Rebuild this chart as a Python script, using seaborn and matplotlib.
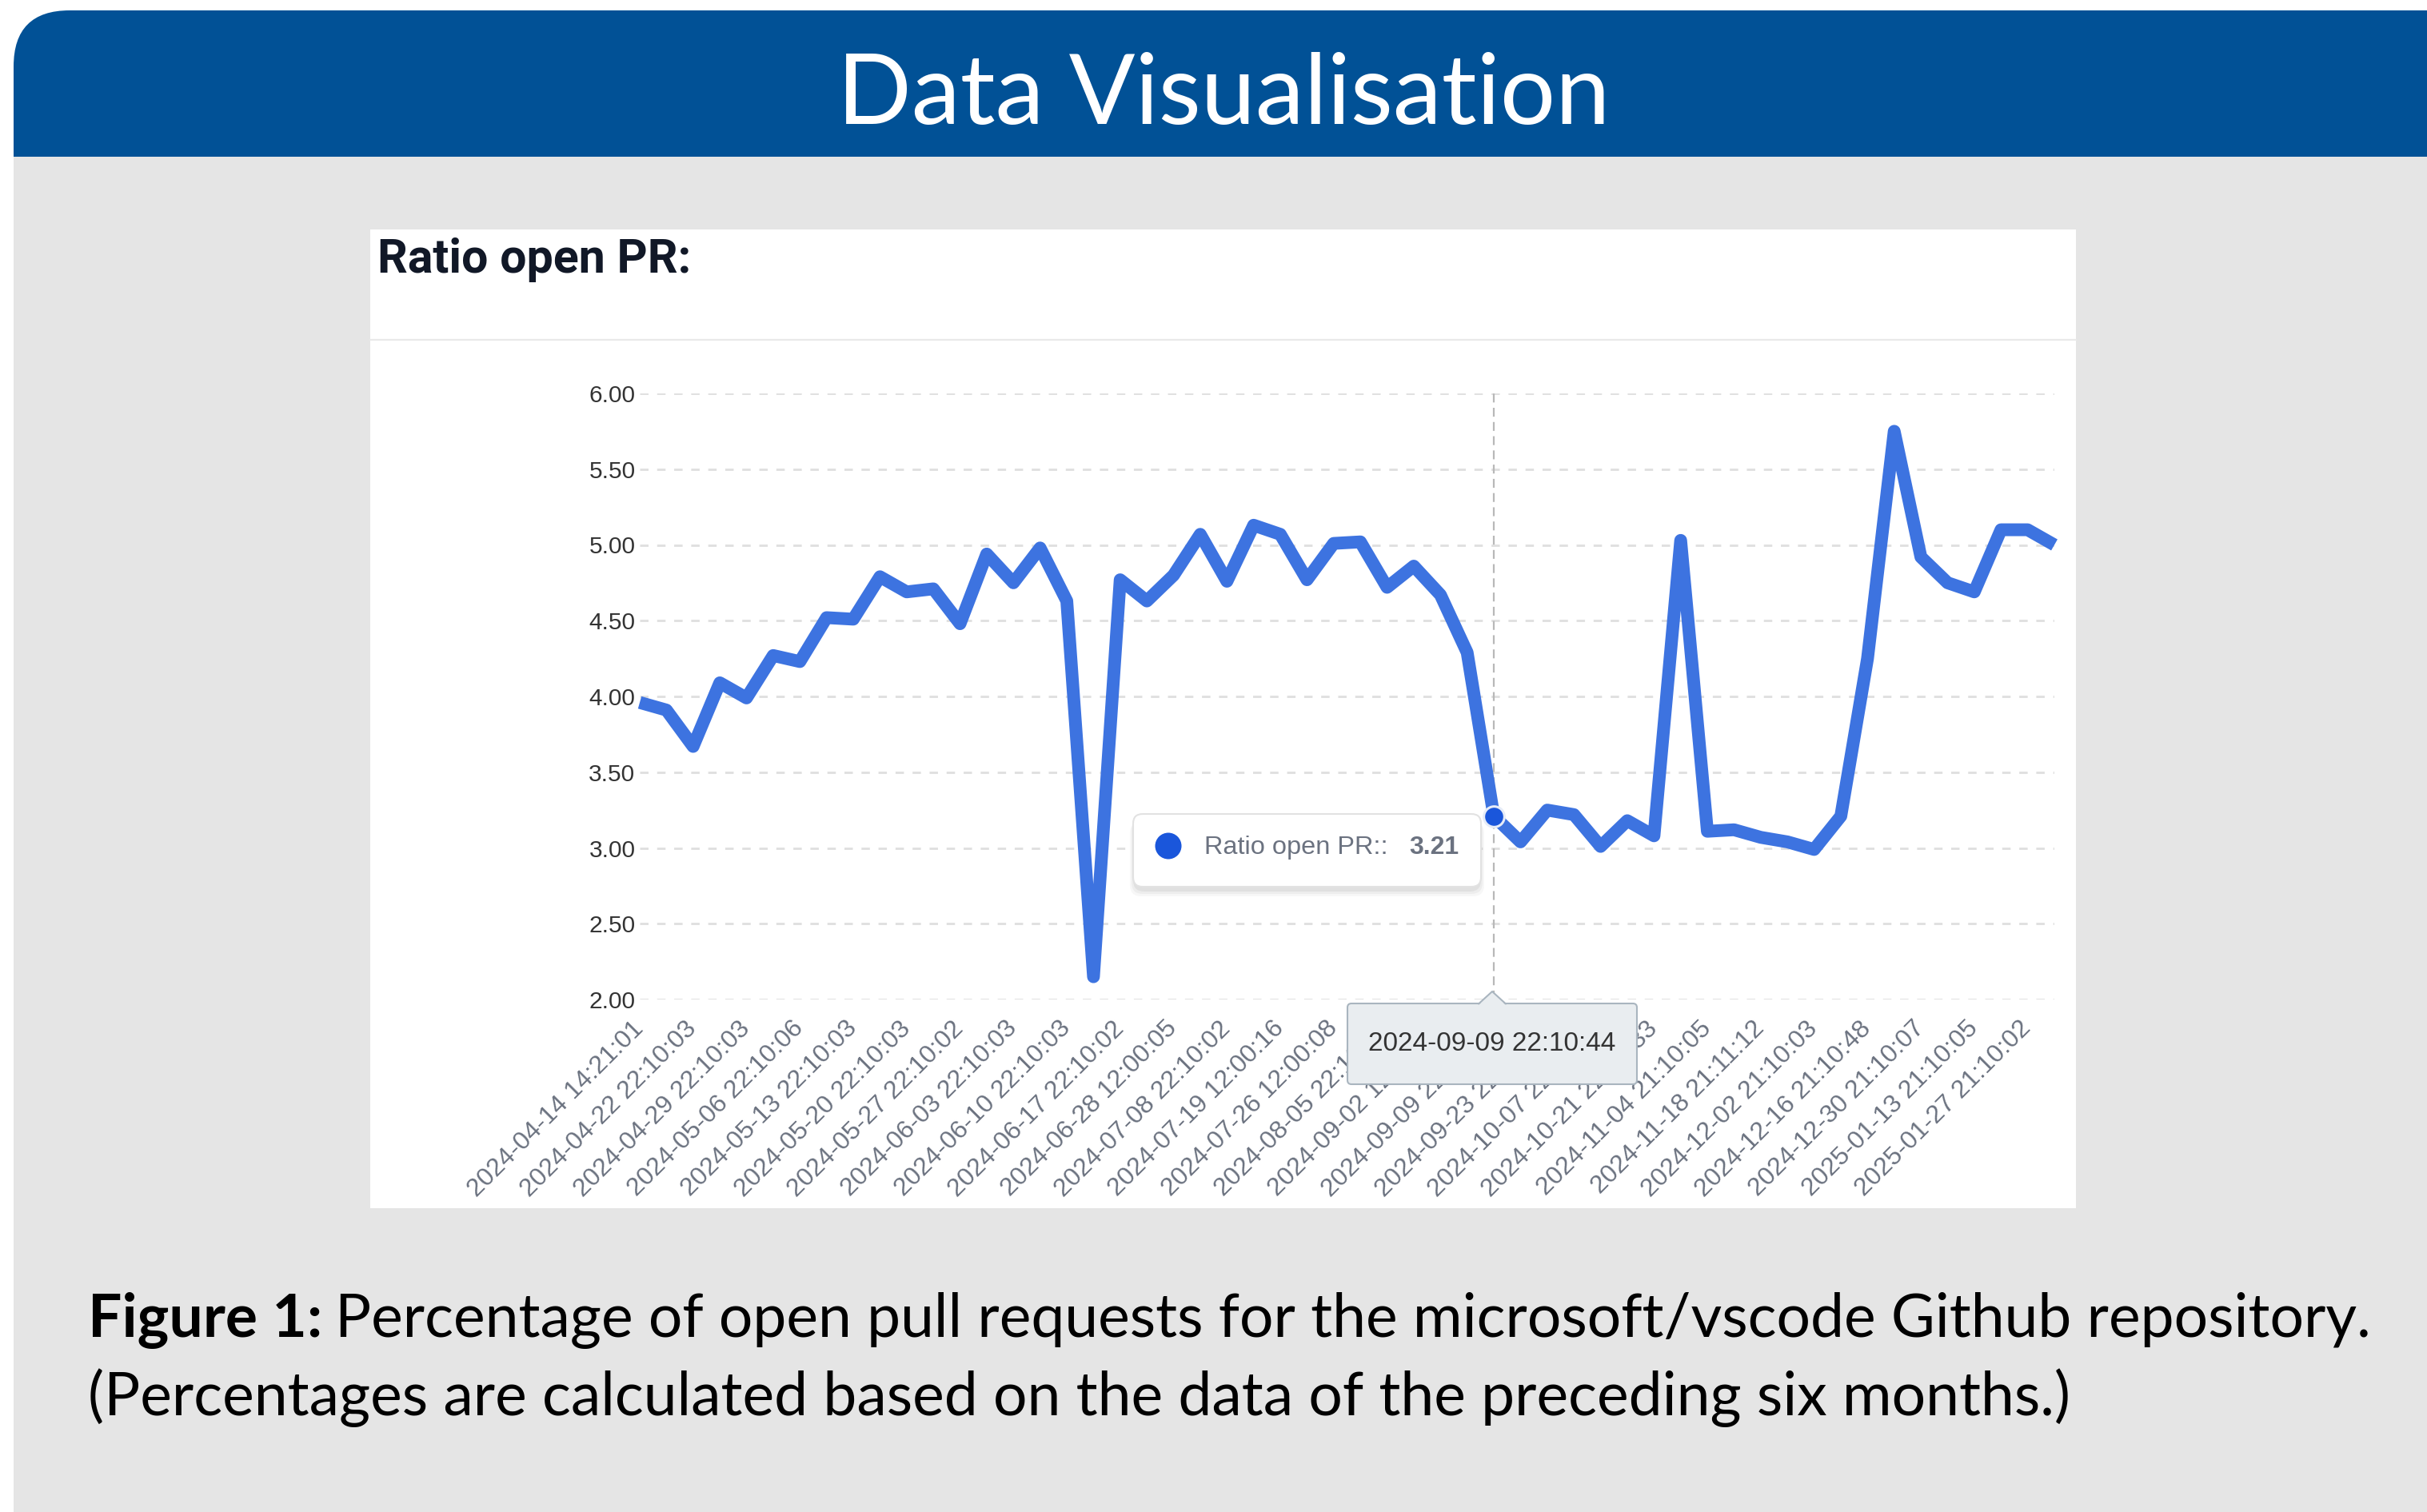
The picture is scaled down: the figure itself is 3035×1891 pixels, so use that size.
import numpy as np
import pandas as pd
import matplotlib.pyplot as plt
import seaborn as sns
from matplotlib.patches import FancyBboxPatch, Rectangle, Polygon, Circle

# Ratio of open PRs, one value per data point (the axis labels every second point)
ratio_open_pr = [3.96, 3.91, 3.67, 4.09, 3.99, 4.27, 4.23, 4.52, 4.51, 4.79,
                 4.69, 4.71, 4.48, 4.94, 4.75, 4.98, 4.63, 2.15, 4.77, 4.63,
                 4.80, 5.07, 4.76, 5.13, 5.07, 4.77, 5.01, 5.02, 4.72, 4.86,
                 4.67, 4.29, 3.21, 3.04, 3.25, 3.22, 3.01, 3.18, 3.08, 5.03,
                 3.11, 3.12, 3.07, 3.04, 2.99, 3.21, 4.25, 5.75, 4.92, 4.75,
                 4.69, 5.10, 5.10, 5.00]

tick_labels = ["2024-04-14 14:21:01", "2024-04-22 22:10:03", "2024-04-29 22:10:03",
               "2024-05-06 22:10:06", "2024-05-13 22:10:03", "2024-05-20 22:10:03",
               "2024-05-27 22:10:02", "2024-06-03 22:10:03", "2024-06-10 22:10:03",
               "2024-06-17 22:10:02", "2024-06-28 12:00:05", "2024-07-08 22:10:02",
               "2024-07-19 12:00:16", "2024-07-26 12:00:08", "2024-08-05 22:10:03",
               "2024-09-02 12:00:09", "2024-09-09 22:10:44", "2024-09-23 22:10:03",
               "2024-10-07 22:10:04", "2024-10-21 22:10:33", "2024-11-04 21:10:05",
               "2024-11-18 21:11:12", "2024-12-02 21:10:03", "2024-12-16 21:10:48",
               "2024-12-30 21:10:07", "2025-01-13 21:10:05", "2025-01-27 21:10:02"]
label_step = 2
y_ticks = [2.0, 2.5, 3.0, 3.5, 4.0, 4.5, 5.0, 5.5, 6.0]
hover_idx = 32  # point under the tooltip

df = pd.DataFrame({"idx": np.arange(len(ratio_open_pr)), "ratio": ratio_open_pr})

sns.set_theme(style="white")
plt.rcParams["font.family"] = ["Liberation Sans", "DejaVu Sans"]

W, H = 3035, 1891
fig = plt.figure(figsize=(W / 100, H / 100), dpi=100)
fig.patch.set_facecolor("white")

# background layer in pixel coordinates
bg = fig.add_axes([0, 0, 1, 1], zorder=0)
bg.set_xlim(0, W)
bg.set_ylim(H, 0)
bg.axis("off")
bg.add_patch(FancyBboxPatch((17, 13), 3100, 300, boxstyle="round,pad=0,rounding_size=70",
                            fc="#015196", ec="none"))
bg.add_patch(Rectangle((17, 196), W, H, fc="#e5e5e5", ec="none"))
bg.add_patch(Rectangle((463, 287), 2133, 1224, fc="white", ec="none"))
bg.plot([463, 2596], [425, 425], color="#e9e9e9", lw=1.6)

header = bg.text(1530, 155, "Data Visualisation", color="white", ha="center", va="baseline",
                 fontsize=90, family=["Lato", "DejaVu Sans"], fontweight="normal")
title = bg.text(472, 341, "Ratio open PR:", color="#111827", ha="left", va="baseline",
                fontsize=38, family=["Roboto", "DejaVu Sans"], fontweight="bold")
cap_bold = bg.text(110, 1672, "Figure 1:", color="black", ha="left", va="baseline",
                   fontsize=52, family=["Lato", "DejaVu Sans"], fontweight="bold")
cap_rest = bg.text(426, 1672, "Percentage of open pull requests for the microsoft/vscode Github repository.",
                   color="black", ha="left", va="baseline", fontsize=52, family=["Lato", "DejaVu Sans"])
cap_two = bg.text(110, 1770, "(Percentages are calculated based on the data of the preceding six months.)",
                  color="black", ha="left", va="baseline", fontsize=52, family=["Lato", "DejaVu Sans"])

# chart axes
ax = fig.add_axes([800 / W, 1 - 1250 / H, (2569 - 800) / W, (1250 - 492) / H], zorder=2)
ax.set_facecolor("none")
sns.lineplot(data=df, x="idx", y="ratio", ax=ax, color="#3d73e0", linewidth=11.5,
             estimator=None, solid_joinstyle="round", solid_capstyle="butt", clip_on=False, zorder=3)
ax.set_xlim(0, len(ratio_open_pr) - 1)
ax.set_ylim(2, 6)
ax.set_yticks(y_ticks)
ax.set_yticklabels([f"{v:.2f}" for v in y_ticks], fontsize=21.5, color="#333333")
ax.set_xticks(np.arange(0, len(tick_labels) * label_step, label_step))
ax.set_xticklabels(tick_labels, rotation=45, ha="right", va="center", rotation_mode="anchor",
                   fontsize=23, color="#6b7280")
ax.tick_params(axis="both", length=0)
ax.tick_params(axis="y", pad=4)
ax.tick_params(axis="x", pad=23)
ax.set_xlabel("")
ax.set_ylabel("")
for s in ax.spines.values():
    s.set_visible(False)
ax.yaxis.grid(True, linestyle=(0, (3.6, 3.7)), color="#e0e0e0", lw=2.1)
ax.xaxis.grid(False)
ax.set_axisbelow(True)

hover_val = ratio_open_pr[hover_idx]
ax.axvline(hover_idx, color="#b8b8b8", lw=1.6, ls=(0, (5, 3)), zorder=2)
ax.plot([hover_idx], [hover_val], "o", ms=18.5, mfc="#1a56db", mec="#e6ecf8", mew=2.2,
        zorder=5, clip_on=False)

# tooltip layer
ov = fig.add_axes([0, 0, 1, 1], zorder=4)
ov.set_facecolor("none")
ov.set_xlim(0, W)
ov.set_ylim(H, 0)
ov.axis("off")
for k, a in enumerate([0.05, 0.04, 0.03]):
    ov.add_patch(FancyBboxPatch((1417 - k * 2, 1022 + k * 3), 435 + k * 4, 93, boxstyle="round,pad=0,rounding_size=14",
                                fc="black", ec="none", alpha=a))
ov.add_patch(FancyBboxPatch((1417, 1018), 435, 91, boxstyle="round,pad=0,rounding_size=12",
                            fc="white", ec="#e2e2e2", lw=1.5))
ov.add_patch(Circle((1461, 1058), 16.5, fc="#1a56db", ec="none"))
ov.text(1506, 1060, "Ratio open PR::", fontsize=23.4, color="#6b7280", ha="left", va="center")
ov.text(1762, 1060, f"{hover_val:.2f}", fontsize=23, color="#6b7280", ha="left", va="center",
        fontweight="bold")

ov.add_patch(FancyBboxPatch((1685, 1255), 362, 101, boxstyle="round,pad=0,rounding_size=5",
                            fc="#e9edf0", ec="#a9b5bf", lw=1.5))
ov.add_patch(Polygon([(1849, 1257), (1866, 1240), (1883, 1257)], closed=True, fc="#e9edf0", ec="none"))
ov.plot([1849, 1866, 1883], [1255.5, 1240, 1255.5], color="#a9b5bf", lw=1.5)
ov.text(1866, 1306, tick_labels[hover_idx // label_step], fontsize=24, color="#333333",
        ha="center", va="center")

# scale the poster texts to the widths they take in the reference
fig.canvas.draw()
r = fig.canvas.get_renderer()
for t, target in [(header, 966), (title, 393)]:
    w = t.get_window_extent(r).width
    t.set_fontsize(t.get_fontsize() * target / w)

# caption: one size that best fits both line widths
w1 = cap_bold.get_window_extent(r).width + 0.3 * 52 + cap_rest.get_window_extent(r).width
w2 = cap_two.get_window_extent(r).width
fs = 52 * 0.5 * (2832 / w1 + 2507 / w2)
for t in (cap_bold, cap_rest, cap_two):
    t.set_fontsize(fs)
fig.canvas.draw()
bw = cap_bold.get_window_extent(r).width
cap_rest.set_x(110 + bw + 0.3 * fs)

fig.savefig("out.png", dpi=100, facecolor="white")
